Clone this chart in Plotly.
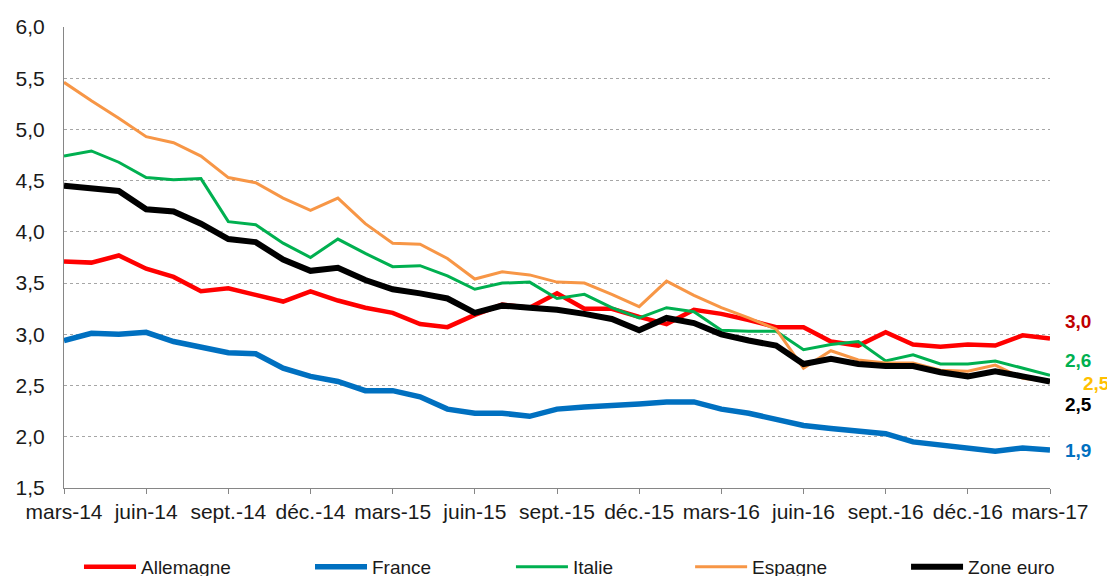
import plotly.graph_objects as go

months = [
    "mars-14", "avr.-14", "mai-14", "juin-14", "juil.-14", "août-14", "sept.-14", "oct.-14", "nov.-14", "déc.-14",
    "janv.-15", "févr.-15", "mars-15", "avr.-15", "mai-15", "juin-15", "juil.-15", "août-15", "sept.-15", "oct.-15",
    "nov.-15", "déc.-15", "janv.-16", "févr.-16", "mars-16", "avr.-16", "mai-16", "juin-16", "juil.-16", "août-16",
    "sept.-16", "oct.-16", "nov.-16", "déc.-16", "janv.-17", "févr.-17", "mars-17",
]
tick_labels = months[::3]

allemagne = [3.71, 3.70, 3.77, 3.64, 3.56, 3.42, 3.45, 3.38, 3.32, 3.42, 3.33, 3.26, 3.21, 3.10, 3.07, 3.19,
             3.29, 3.26, 3.40, 3.25, 3.25, 3.17, 3.10, 3.24, 3.20, 3.14, 3.07, 3.07, 2.93, 2.89, 3.02, 2.90,
             2.88, 2.90, 2.89, 2.99, 2.96]
france = [2.94, 3.01, 3.00, 3.02, 2.93, 2.87, 2.82, 2.81, 2.67, 2.59, 2.54, 2.45, 2.45, 2.39, 2.27, 2.23,
          2.23, 2.20, 2.27, 2.29, 2.30, 2.32, 2.34, 2.34, 2.27, 2.23, 2.17, 2.11, 2.08, 2.05, 2.03, 1.95,
          1.92, 1.88, 1.86, 1.89, 1.87]
italie = [4.74, 4.79, 4.68, 4.53, 4.51, 4.52, 4.10, 4.07, 3.89, 3.75, 3.93, 3.79, 3.66, 3.67, 3.57, 3.44,
          3.50, 3.51, 3.35, 3.39, 3.26, 3.16, 3.26, 3.22, 3.04, 3.03, 3.03, 2.85, 2.90, 2.93, 2.74, 2.80,
          2.71, 2.71, 2.74, 2.67, 2.60]
espagne = [5.46, 5.28, 5.11, 4.93, 4.87, 4.74, 4.53, 4.48, 4.33, 4.21, 4.33, 4.08, 3.89, 3.88, 3.74, 3.54,
           3.61, 3.58, 3.51, 3.50, 3.39, 3.27, 3.52, 3.38, 3.26, 3.16, 3.05, 2.67, 2.84, 2.75, 2.72, 2.72,
           2.65, 2.64, 2.70, 2.57, 2.54]
zone_euro = [4.45, 4.43, 4.40, 4.22, 4.20, 4.08, 3.93, 3.90, 3.73, 3.62, 3.65, 3.53, 3.44, 3.40, 3.35, 3.21,
             3.28, 3.26, 3.24, 3.20, 3.15, 3.04, 3.16, 3.11, 3.00, 2.94, 2.89, 2.71, 2.76, 2.71, 2.69, 2.69,
             2.63, 2.59, 2.64, 2.59, 2.54]

# name, values, line colour, line width, end-label colour, label yshift, label xshift, legend x
series = [
    ("Allemagne", allemagne, "#FF0000", 4.5, "#C00000", 17, 28, 0.0152),
    ("France", france, "#0070C0", 5.5, "#0070C0", 0, 28, 0.2495),
    ("Italie", italie, "#00B050", 3, "#00B050", 15, 28, 0.4533),
    ("Espagne", espagne, "#F79646", 3, "#FFC000", -2, 46, 0.635),
    ("Zone euro", zone_euro, "#000000", 6, "#000000", -23, 28, 0.854),
]

FONT = "Liberation Sans, Arial, sans-serif"

fig = go.Figure()
legend_layout = {}
for i, (name, vals, color, width, lab_color, yshift, xshift, lx) in enumerate(series):
    key = "legend" if i == 0 else f"legend{i + 1}"
    fig.add_trace(go.Scatter(x=months, y=vals, name=name, mode="lines",
                             line=dict(color=color, width=width), legend=key))
    legend_layout[key] = dict(orientation="h", x=lx, xanchor="left", y=-0.1714, yanchor="middle",
                              font=dict(family=FONT, size=19, color="#1a1a1a"),
                              bgcolor="rgba(0,0,0,0)", itemwidth=52)

for name, vals, color, width, lab_color, yshift, xshift, lx in series:
    fig.add_annotation(x=months[-1], y=vals[-1], xref="x", yref="y",
                       text="<b>" + f"{vals[-1]:.1f}".replace(".", ",") + "</b>",
                       showarrow=False, xanchor="center", yanchor="middle",
                       xshift=xshift, yshift=yshift,
                       font=dict(family=FONT, size=19, color=lab_color))

fig.update_layout(
    width=1115, height=576,
    margin=dict(l=56, r=73, t=19, b=96, autoexpand=False),
    paper_bgcolor="white", plot_bgcolor="white",
    font=dict(family=FONT, size=21, color="#1a1a1a"),
    separators=", ",
    showlegend=True,
    **legend_layout,
)
fig.update_xaxes(
    type="category", categoryorder="array", categoryarray=months,
    range=[0, len(months) - 1],
    tickmode="array", tickvals=tick_labels, ticktext=tick_labels, tickangle=0,
    showgrid=False, showline=True, linecolor="#868686", linewidth=1,
    ticks="outside", ticklen=5, tickcolor="#868686",
    tickfont=dict(family=FONT, size=21, color="#1a1a1a"),
    zeroline=False,
)
fig.update_yaxes(
    range=[1.5, 6.0], dtick=0.5, tick0=1.5, tickformat=".1f",
    showgrid=True, gridcolor="#A6A6A6", griddash="dot", gridwidth=1,
    showline=True, linecolor="#868686", linewidth=1,
    ticks="", ticklabelstandoff=14,
    tickfont=dict(family=FONT, size=21, color="#1a1a1a"),
    zeroline=False,
)

fig.write_html("out.html")
